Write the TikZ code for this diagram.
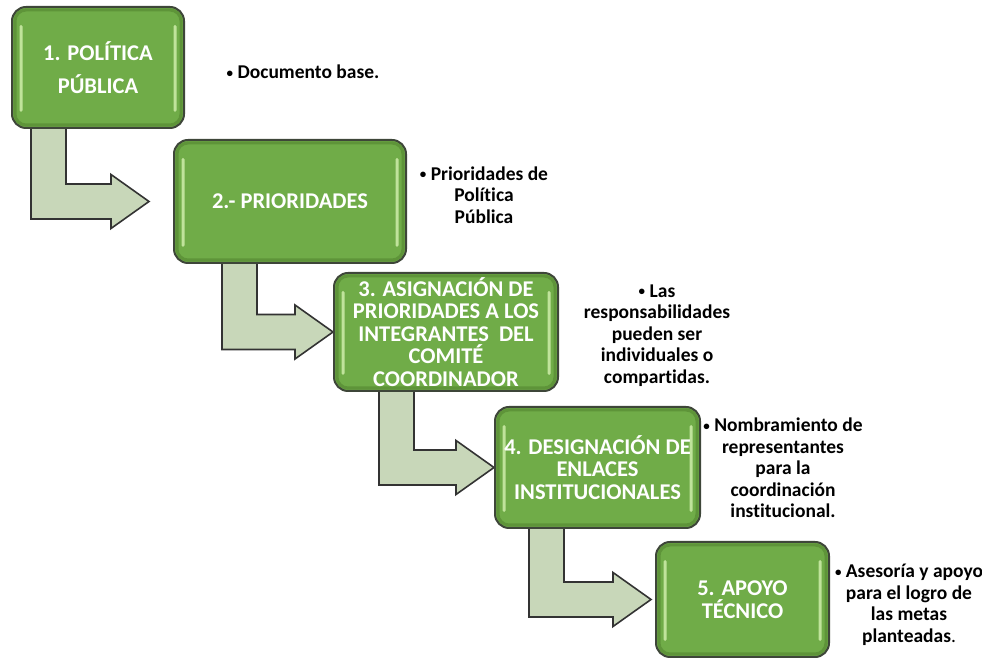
\documentclass[tikz,border=0pt]{standalone}
\usepackage{fontspec}
\setmainfont{Carlito}[Ligatures=NoCommon]
\usetikzlibrary{positioning, calc, backgrounds}

\definecolor{verde}{HTML}{70AC48}
\definecolor{verdeclaro}{HTML}{CFEDAA}
\definecolor{verdeborde}{HTML}{5E9439}
\definecolor{gris}{HTML}{3E4639}
\definecolor{grisflecha}{HTML}{C8D7B9}

\newcommand\vineta{{\fontsize{13}{13}\selectfont\raisebox{1.5pt}{•}}}

% bent block arrow: source, target, stem offset, gap before target
\newcommand\flecha[4]{%
  \filldraw[flecha] let \p1=(#1.south west), \p2=(#2.west) in
    (\x1+#3, \y1+4) -- (\x1+#3, \y2-17.5) -- (\x2-#4-38, \y2-17.5)
    -- (\x2-#4-38, \y2-27) -- (\x2-#4, \y2) -- (\x2-#4-38, \y2+27)
    -- (\x2-#4-38, \y2+17.5) -- (\x1+#3+35, \y2+17.5) -- (\x1+#3+35, \y1+4) -- cycle;}

\begin{document}
\begin{tikzpicture}[
    x=1pt, y=1pt,
    caja/.style={rectangle, rounded corners=14pt, draw=gris, line width=2pt, fill=verde,
      text=white, align=center, inner sep=0pt,
      font=\fontsize{22.5}{22.5}\selectfont\bfseries,
      path picture={
        \draw[verdeborde, line width=3pt, rounded corners=11pt]
          ([shift={(3pt,3pt)}]path picture bounding box.south west) rectangle
          ([shift={(-3pt,-3pt)}]path picture bounding box.north east);
        \fill[verdeclaro, opacity=0.85, rounded corners=1.5pt]
          ([shift={(7.5pt,16pt)}]path picture bounding box.south west) rectangle
          ([shift={(10.5pt,-18pt)}]path picture bounding box.north west);
        \fill[verdeclaro, opacity=0.85, rounded corners=1.5pt]
          ([shift={(-10.5pt,16pt)}]path picture bounding box.south east) rectangle
          ([shift={(-7.5pt,-18pt)}]path picture bounding box.north east);
      }},
    flecha/.style={fill=grisflecha, draw=black!80, line width=1.6pt, line join=miter},
    nota/.style={align=center, inner sep=0pt, font=\fontsize{19.5}{21.5}\selectfont\bfseries},
]
\useasboundingbox (0,0) rectangle (982,660);

% Steps
\node[caja, minimum width=172, minimum height=121] (paso1) at (98,592.5)
  {1. POLÍTICA\\[10.5pt]PÚBLICA};
\node[caja, minimum width=232, minimum height=123] (paso2) at (290,458.5)
  {2.- PRIORIDADES};
\node[caja, minimum width=224, minimum height=118] (paso3) at (446,328)
  {3. ASIGNACIÓN DE\\PRIORIDADES A LOS\\INTEGRANTES~ DEL\\COMITÉ\\COORDINADOR};
\node[caja, minimum width=205, minimum height=121] (paso4) at (597.5,192.5)
  {4. DESIGNACIÓN DE\\ENLACES\\INSTITUCIONALES};
\node[caja, minimum width=173, minimum height=115] (paso5) at (742.5,60.5)
  {5. APOYO\\TÉCNICO};

% Notes
\node[nota] (nota1) at (303,588) {\vineta\ Documento base.};
\node[nota] (nota2) at (484,465) {\vineta\ Prioridades de\\Política\\Pública};
\node[nota] (nota3) at (657,324.5) {\vineta\ Las\\responsabilidades\\pueden ser\\individuales o\\compartidas.};
\node[nota] (nota4) at (783,192) {\vineta\ Nombramiento de\\representantes\\para la\\coordinación\\institucional.};
\node[nota] (nota5) at (909,55) {\vineta\ Asesoría y apoyo\\para el logro de\\las metas\\planteadas{\mdseries .}};

% Arrows
\begin{pgfonlayer}{background}
\flecha{paso1}{paso2}{20}{24}
\flecha{paso2}{paso3}{49}{0}
\flecha{paso3}{paso4}{46}{0}
\flecha{paso4}{paso5}{35}{4}
\end{pgfonlayer}
\end{tikzpicture}
\end{document}
